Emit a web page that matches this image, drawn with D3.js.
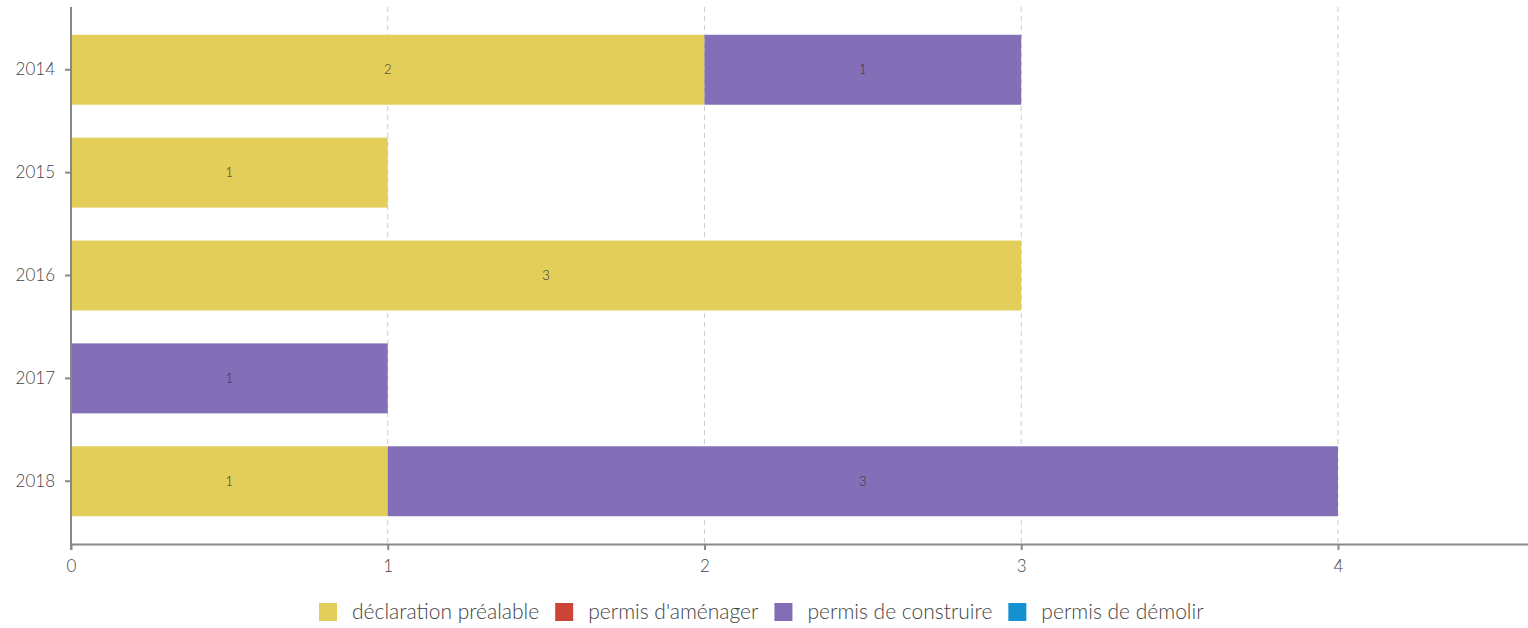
<!DOCTYPE html>
<html>
<head>
<meta charset="utf-8">
<script src="https://cdn.jsdelivr.net/npm/d3@7"></script>
<style>
  body { margin: 0; background: #fff; font-family: Lato, "Noto Sans", sans-serif; }
  .axis text { font-size: 17px; fill: #444; font-family: Lato, "Noto Sans", sans-serif; font-weight: 300; }
  .axis path, .axis line { stroke: #888; stroke-width: 2px; }
  .grid line { stroke: #ccc; stroke-dasharray: 5,4; stroke-width: 1px; }
  .val { font-size: 13px; fill: #333; font-weight: 300; }
  .legend text { font-size: 21px; fill: #444; font-weight: 300; }
</style>
</head>
<body>
<div id="vis"></div>
<script>
var years = ['2014', '2015', '2016', '2017', '2018'];
var series = ['déclaration préalable', "permis d'aménager", 'permis de construire', 'permis de démolir'];
var colors = ['#e3ce5a', '#cc4435', '#836fb7', '#1590d0'];
var declaration = [2, 1, 3, 0, 1];
var amenager = [0, 0, 0, 0, 0];
var construire = [1, 0, 0, 1, 3];
var demolir = [0, 0, 0, 0, 0];
var xTicks = [0, 1, 2, 3, 4];

var W = 1528, H = 628;
var margin = { left: 71, top: 7, right: 0, bottom: 84 };

var svg = d3.select('#vis').append('svg')
    .attr('width', W)
    .attr('height', H);

var rows = years.map(function (y, i) {
    return { year: y, values: [declaration[i], amenager[i], construire[i], demolir[i]] };
});

var xScale = d3.scaleLinear()
    .domain([0, 4.6])
    .range([margin.left, W - margin.right]);

var yScale = d3.scaleBand()
    .domain(years)
    .range([margin.top, H - margin.bottom])
    .paddingInner(0.32)
    .paddingOuter(0.27);

// grid
svg.append('g').attr('class', 'grid')
    .selectAll('line').data(xTicks.slice(1)).enter()
    .append('line')
    .attr('x1', function (d) { return xScale(d); })
    .attr('x2', function (d) { return xScale(d); })
    .attr('y1', margin.top)
    .attr('y2', H - margin.bottom);

// bars
var rowG = svg.selectAll('.row').data(rows).enter()
    .append('g').attr('class', 'row');

rowG.each(function (r) {
    var g = d3.select(this);
    var acc = 0;
    r.values.forEach(function (v, k) {
        if (v > 0) {
            g.append('rect')
                .attr('x', xScale(acc))
                .attr('y', yScale(r.year))
                .attr('width', xScale(acc + v) - xScale(acc))
                .attr('height', yScale.bandwidth())
                .attr('fill', colors[k]);
            g.append('text')
                .attr('class', 'val')
                .attr('x', xScale(acc + v / 2))
                .attr('y', yScale(r.year) + yScale.bandwidth() / 2)
                .attr('text-anchor', 'middle')
                .attr('dy', '0.35em')
                .text(v);
        }
        acc += v;
    });
});

// axes
var xAxis = d3.axisBottom(xScale).tickValues(xTicks).tickFormat(d3.format('d'))
    .tickSize(6).tickPadding(10).tickSizeOuter(0);
svg.append('g').attr('class', 'axis')
    .attr('transform', 'translate(0,' + (H - margin.bottom) + ')')
    .call(xAxis);

var yAxis = d3.axisLeft(yScale).tickSize(6).tickPadding(10).tickSizeOuter(0);
var yG = svg.append('g').attr('class', 'axis')
    .attr('transform', 'translate(' + margin.left + ',0)')
    .call(yAxis);
yG.select('.domain').attr('d', 'M0,' + margin.top + 'V' + (H - margin.bottom + 6));

// legend
var legend = svg.append('g').attr('class', 'legend');
var lx = 319;
series.forEach(function (s, k) {
    var item = legend.append('g').attr('transform', 'translate(' + lx + ',603)');
    item.append('rect').attr('width', 18).attr('height', 18).attr('fill', colors[k]);
    var t = item.append('text').attr('x', 33).attr('y', 9).attr('dy', '0.35em').text(s);
    lx += 33 + t.node().getComputedTextLength() + 16;
});
</script>
</body>
</html>
